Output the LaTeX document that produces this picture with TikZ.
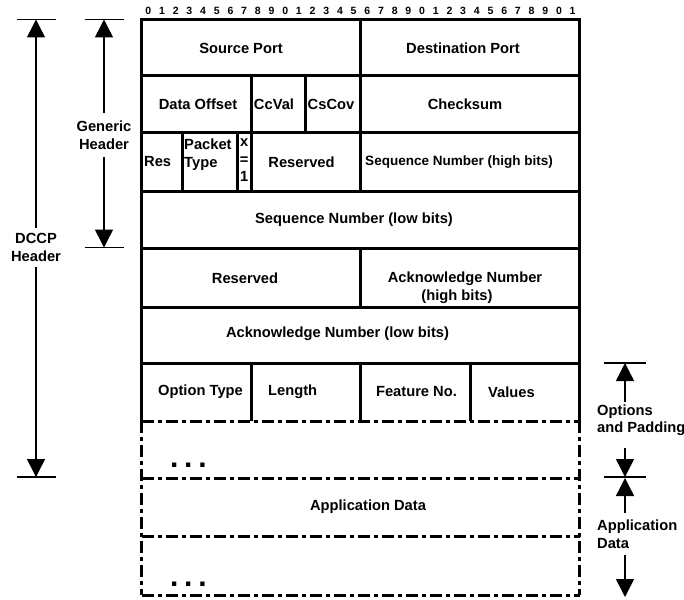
\documentclass[tikz,border=0pt]{standalone}
\usepackage{fontspec}
\setmainfont{Liberation Sans}
\usepackage{tikz}
\usetikzlibrary{arrows.meta,positioning,calc}

\begin{document}
\begin{tikzpicture}[x=1pt, y=-1pt,
    every node/.style={font=\bfseries\fontsize{14.7}{17.5}\selectfont, inner sep=0pt},
    bits/.style={font=\bfseries\fontsize{10.5}{12}\selectfont},
    dots/.style={font=\bfseries\fontsize{30}{30}\selectfont, anchor=base west},
    frame/.style={line width=3pt},
    optframe/.style={line width=3pt, dash pattern=on 12pt off 4pt on 4pt off 4pt},
    dimline/.style={line width=1.5pt},
    dimarrow/.style={dimline, -{Triangle[width=18pt,length=18pt]}}]
        \useasboundingbox (0,0) rectangle (684,599);

        % Bit numbers
        \foreach \b in {0,...,31} {
            \pgfmathtruncatemacro\d{mod(\b,10)}
            \node[bits] (bit\b) at ({141.5+13.6875*(\b+0.5)},11) {\d};
        }

        % Fixed header frame
        \draw[frame] (141.5,421) -- (141.5,20) -- (579.5,20) -- (579.5,421);
        \foreach \y in {76,132,191,248,307,363}
            \draw[frame] (141.5,\y) -- (579.5,\y);
        \draw[frame] (360.5,20) -- (360.5,132);
        \draw[frame] (251,76) -- (251,191);
        \draw[frame] (305.8,76) -- (305.8,132);
        \draw[frame] (360.5,132) -- (360.5,191);
        \draw[frame] (182.6,132) -- (182.6,191);
        \draw[frame] (237.3,132) -- (237.3,191);
        \draw[frame] (360.5,248) -- (360.5,307);
        \draw[frame] (251,363) -- (251,421);
        \draw[frame] (360.5,363) -- (360.5,421);
        \draw[frame] (470,363) -- (470,421);

        % Options and data
        \foreach \y in {421,478,536,595}
            \draw[optframe] (141.5,\y) -- (579.5,\y);
        \draw[optframe] (141.5,421) -- (141.5,595);
        \draw[optframe] (579.5,421) -- (579.5,595);

        % Fields
        \node (srcport) at (241,48) {Source Port};
        \node (dstport) at (463,48) {Destination Port};
        \node (offset) at (198,104) {Data Offset};
        \node (ccval) at (274,104) {CcVal};
        \node (cscov) at (331,104) {CsCov};
        \node (checksum) at (465,104) {Checksum};
        \node[anchor=west] (res) at (144,162) {Res};
        \node[anchor=north west, align=left] (ptype) at (184,139) {Packet\\Type};
        \node[anchor=north, align=center] (xbit) at (244.2,139) {x\\=\\1};
        \node (reserved1) at (301.5,162) {Reserved};
        \node[font=\bfseries\fontsize{13.5}{16}\selectfont] (seqhigh) at (459,162) {Sequence Number (high bits)};
        \node (seqlow) at (354,219.5) {Sequence Number (low bits)};
        \node (reserved2) at (245,278) {Reserved};
        \node[align=center] (ackhigh) at (465,287.5) {Acknowledge Number\\(high bits)\hspace*{16pt}};
        \node (acklow) at (337.5,334) {Acknowledge Number (low bits)};
        \node (opttype) at (200.5,392) {Option Type};
        \node[anchor=west] (length) at (268,392) {Length};
        \node (feature) at (416.5,392) {Feature No.};
        \node[anchor=west] (values) at (488,392) {Values};
        \node[dots] (dots1) at (170,467) {.\hspace{5.7pt}.\hspace{5.7pt}.};
        \node (appdata) at (368,507) {Application Data};
        \node[dots] (dots2) at (170,586) {.\hspace{5.7pt}.\hspace{5.7pt}.};

        % Left dimensions
        \coordinate (dccptop) at (36,19.5);
        \coordinate (dccpbot) at (36,477);
        \coordinate (gentop) at (104,19.5);
        \coordinate (genbot) at (104,247.5);
        \node[align=center, inner sep=5pt] (dccp) at (36,247.5) {DCCP\\Header};
        \node[align=center, inner sep=8pt] (gen) at (104,135) {Generic\\Header};
        \draw[dimarrow] (dccp) -- (dccptop);
        \draw[dimarrow] (dccp) -- (dccpbot);
        \draw[dimarrow] (gen) -- (gentop);
        \draw[dimarrow] (gen) -- (genbot);
        \foreach \c in {dccptop,dccpbot,gentop,genbot}
            \draw[dimline] ([xshift=-19.5pt]\c) -- ([xshift=19.5pt]\c);

        % Right dimensions
        \coordinate (opttop) at (625,363);
        \coordinate (optbot) at (625,477);
        \coordinate (apptop) at (625,478);
        \coordinate (appbot) at (625,597);
        \node[anchor=west, align=left, inner sep=2pt] (opt) at (595,420) {Options\\and Padding};
        \node[anchor=west, align=left, inner sep=7pt] (app) at (590,534) {Application\\Data};
        \draw[dimarrow] (opttop |- opt.north) -- (opttop);
        \draw[dimarrow] ($(optbot |- opt.south)+(0,10)$) -- (optbot);
        \draw[dimarrow] (apptop |- app.north) -- (apptop);
        \draw[dimarrow] (appbot |- app.south) -- (appbot);
        \draw[dimline] ([xshift=-21pt]opttop) -- ([xshift=21pt]opttop);
        \draw[dimline] ([xshift=-21pt]optbot) -- ([xshift=21pt]optbot);
\end{tikzpicture}
\end{document}
